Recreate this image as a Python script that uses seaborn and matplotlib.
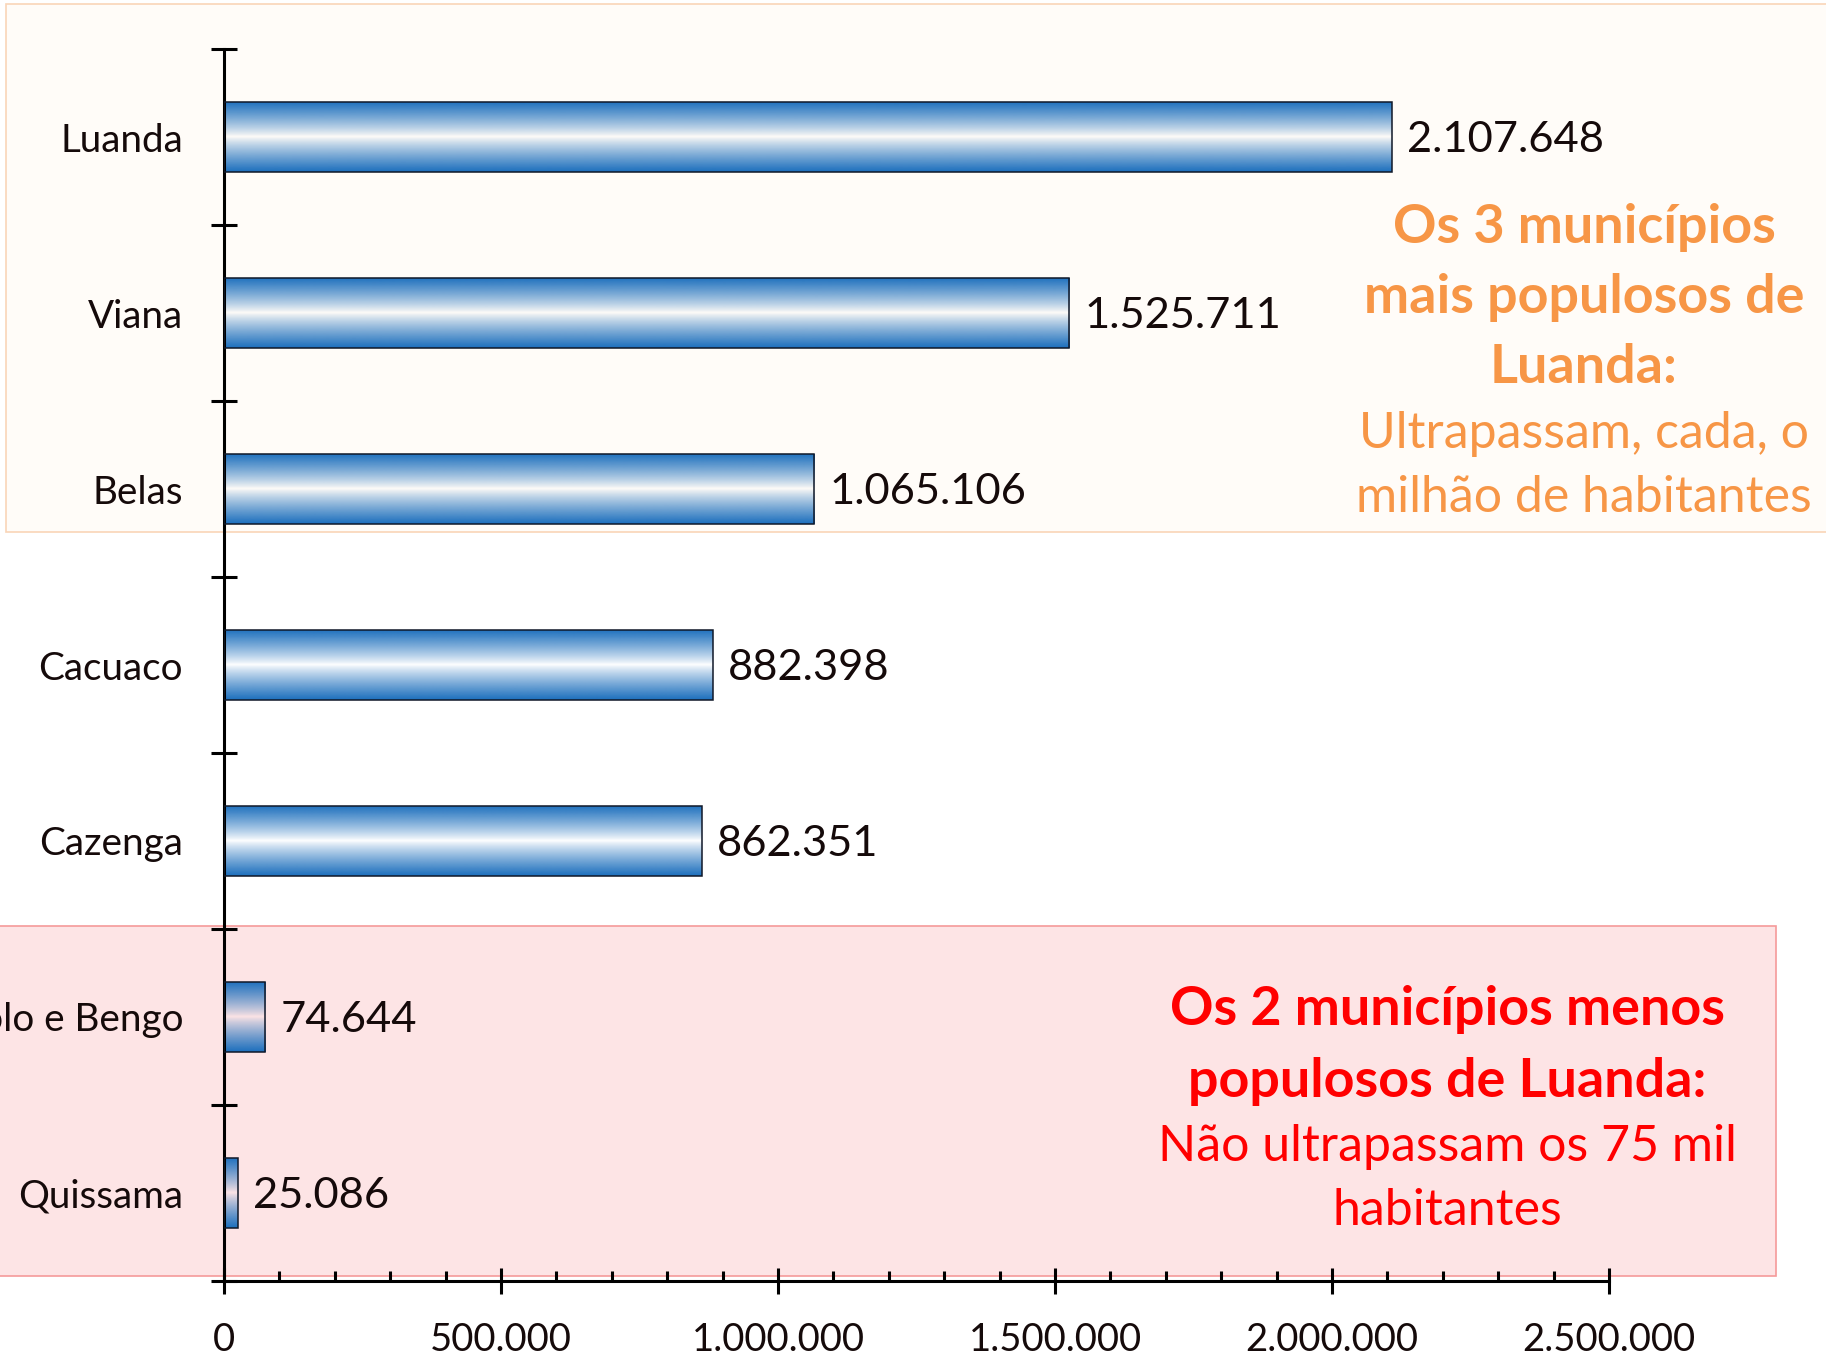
import numpy as np
import matplotlib.pyplot as plt
import seaborn as sns
from matplotlib.patches import Rectangle
from matplotlib.ticker import MultipleLocator

# dados: populacao por municipio (provincia de Luanda)
municipios = ["Luanda", "Viana", "Belas", "Cacuaco", "Cazenga", "Icolo e Bengo", "Quissama"]
populacao = [2107648, 1525711, 1065106, 882398, 862351, 74644, 25086]
ticks_x = [0, 500000, 1000000, 1500000, 2000000, 2500000]

texto_mais = ["Os 3 municípios", "mais populosos de", "Luanda:"]
texto_mais_sub = ["Ultrapassam, cada, o", "milhão de habitantes"]
texto_menos = ["Os 2 municípios menos", "populosos de Luanda:"]
texto_menos_sub = ["Não ultrapassam os 75 mil", "habitantes"]

W, H = 1826, 1369
AZUL = "#1C6FBD"
LARANJA = "#F79646"
VERMELHO = "#FF0000"
TEXTO = "#150a0a"


def milhar(v):
    return f"{v:,.0f}".replace(",", ".")


def fx(px):
    return px / W


def fy(px):
    return 1 - px / H


sns.set_theme(style="white")
plt.rcParams["font.family"] = ["Lato", "DejaVu Sans"]

fig = plt.figure(figsize=(W / 100, H / 100), dpi=100)
fig.patch.set_facecolor("white")

# caixas de destaque (por tras do grafico)
fig.add_artist(Rectangle((fx(6), fy(532)), fx(1830 - 6), (532 - 4) / H, transform=fig.transFigure,
                         facecolor="#FFFCF8", edgecolor="#F9D5B8", linewidth=1.2, zorder=-2))
fig.add_artist(Rectangle((fx(-5), fy(1276)), fx(1776 + 5), (1276 - 926) / H, transform=fig.transFigure,
                         facecolor="#FDE4E5", edgecolor="#F59A9A", linewidth=1.2, zorder=-2))

ax = fig.add_axes([fx(224), fy(1281), fx(1609 - 224), (1281 - 49) / H])
ax.set_facecolor("none")

sns.barplot(x=populacao, y=municipios, orient="h", width=0.4, color=AZUL, ax=ax)

# gradiente nas barras
t = np.linspace(-1, 1, 120)
grad = np.zeros((len(t), 1, 4))
grad[..., :3] = plt.matplotlib.colors.to_rgb(AZUL)
grad[:, 0, 3] = np.abs(t) ** 0.85

for barra in ax.patches:
    x0, y0 = barra.get_x(), barra.get_y()
    w, h = barra.get_width(), barra.get_height()
    img = ax.imshow(grad, extent=(x0, x0 + w, y0 + h, y0), aspect="auto",
                    interpolation="bilinear", zorder=2)
    img.set_clip_path(barra)
    barra.set_facecolor("none")
    barra.set_edgecolor("#101828")
    barra.set_linewidth(1.1)
    barra.set_zorder(3)

for i, v in enumerate(populacao):
    ax.annotate(milhar(v), xy=(v, i), xytext=(11, -2.5), textcoords="offset points",
                va="center", ha="left", fontsize=31.3, color=TEXTO)

ax.set_xlim(0, 2500000)
ax.set_ylim(6.5, -0.5)

ax.set_xticks(ticks_x)
ax.set_xticklabels([milhar(v) for v in ticks_x])
ax.xaxis.set_minor_locator(MultipleLocator(100000))
ax.set_yticks(np.arange(-0.5, 7, 1))
ax.set_yticklabels([])
ax.set_yticks(range(len(municipios)), minor=True)
ax.set_yticklabels(municipios, minor=True)

ax.tick_params(axis="x", which="major", direction="inout", length=18.7, width=2.2,
               color="black", labelsize=27.6, labelcolor=TEXTO, pad=20.5, bottom=True)
ax.tick_params(axis="x", which="minor", direction="in", length=7.2, width=2.2,
               color="black", bottom=True)
ax.tick_params(axis="y", which="major", direction="inout", length=18.7, width=2.2,
               color="black", left=True)
ax.tick_params(axis="y", which="minor", length=0, labelsize=27.8, labelcolor=TEXTO, pad=29.5)

for lado in ["top", "right"]:
    ax.spines[lado].set_visible(False)
for lado in ["left", "bottom"]:
    ax.spines[lado].set_linewidth(2.2)
    ax.spines[lado].set_color("black")
ax.set_xlabel("")
ax.set_ylabel("")

# textos das caixas
for linha, y in zip(texto_mais, [227, 298, 368]):
    fig.text(fx(1584), fy(y), linha, ha="center", va="center", fontsize=38.8,
             fontweight="bold", color=LARANJA)
for linha, y in zip(texto_mais_sub, [434, 498]):
    fig.text(fx(1584), fy(y), linha, ha="center", va="center", fontsize=36, color=LARANJA)
for linha, y in zip(texto_menos, [1010, 1081]):
    fig.text(fx(1447), fy(y), linha, ha="center", va="center", fontsize=38.8,
             fontweight="bold", color=VERMELHO)
for linha, y in zip(texto_menos_sub, [1147, 1211]):
    fig.text(fx(1447), fy(y), linha, ha="center", va="center", fontsize=36, color=VERMELHO)

fig.savefig("out.png", dpi=100)
